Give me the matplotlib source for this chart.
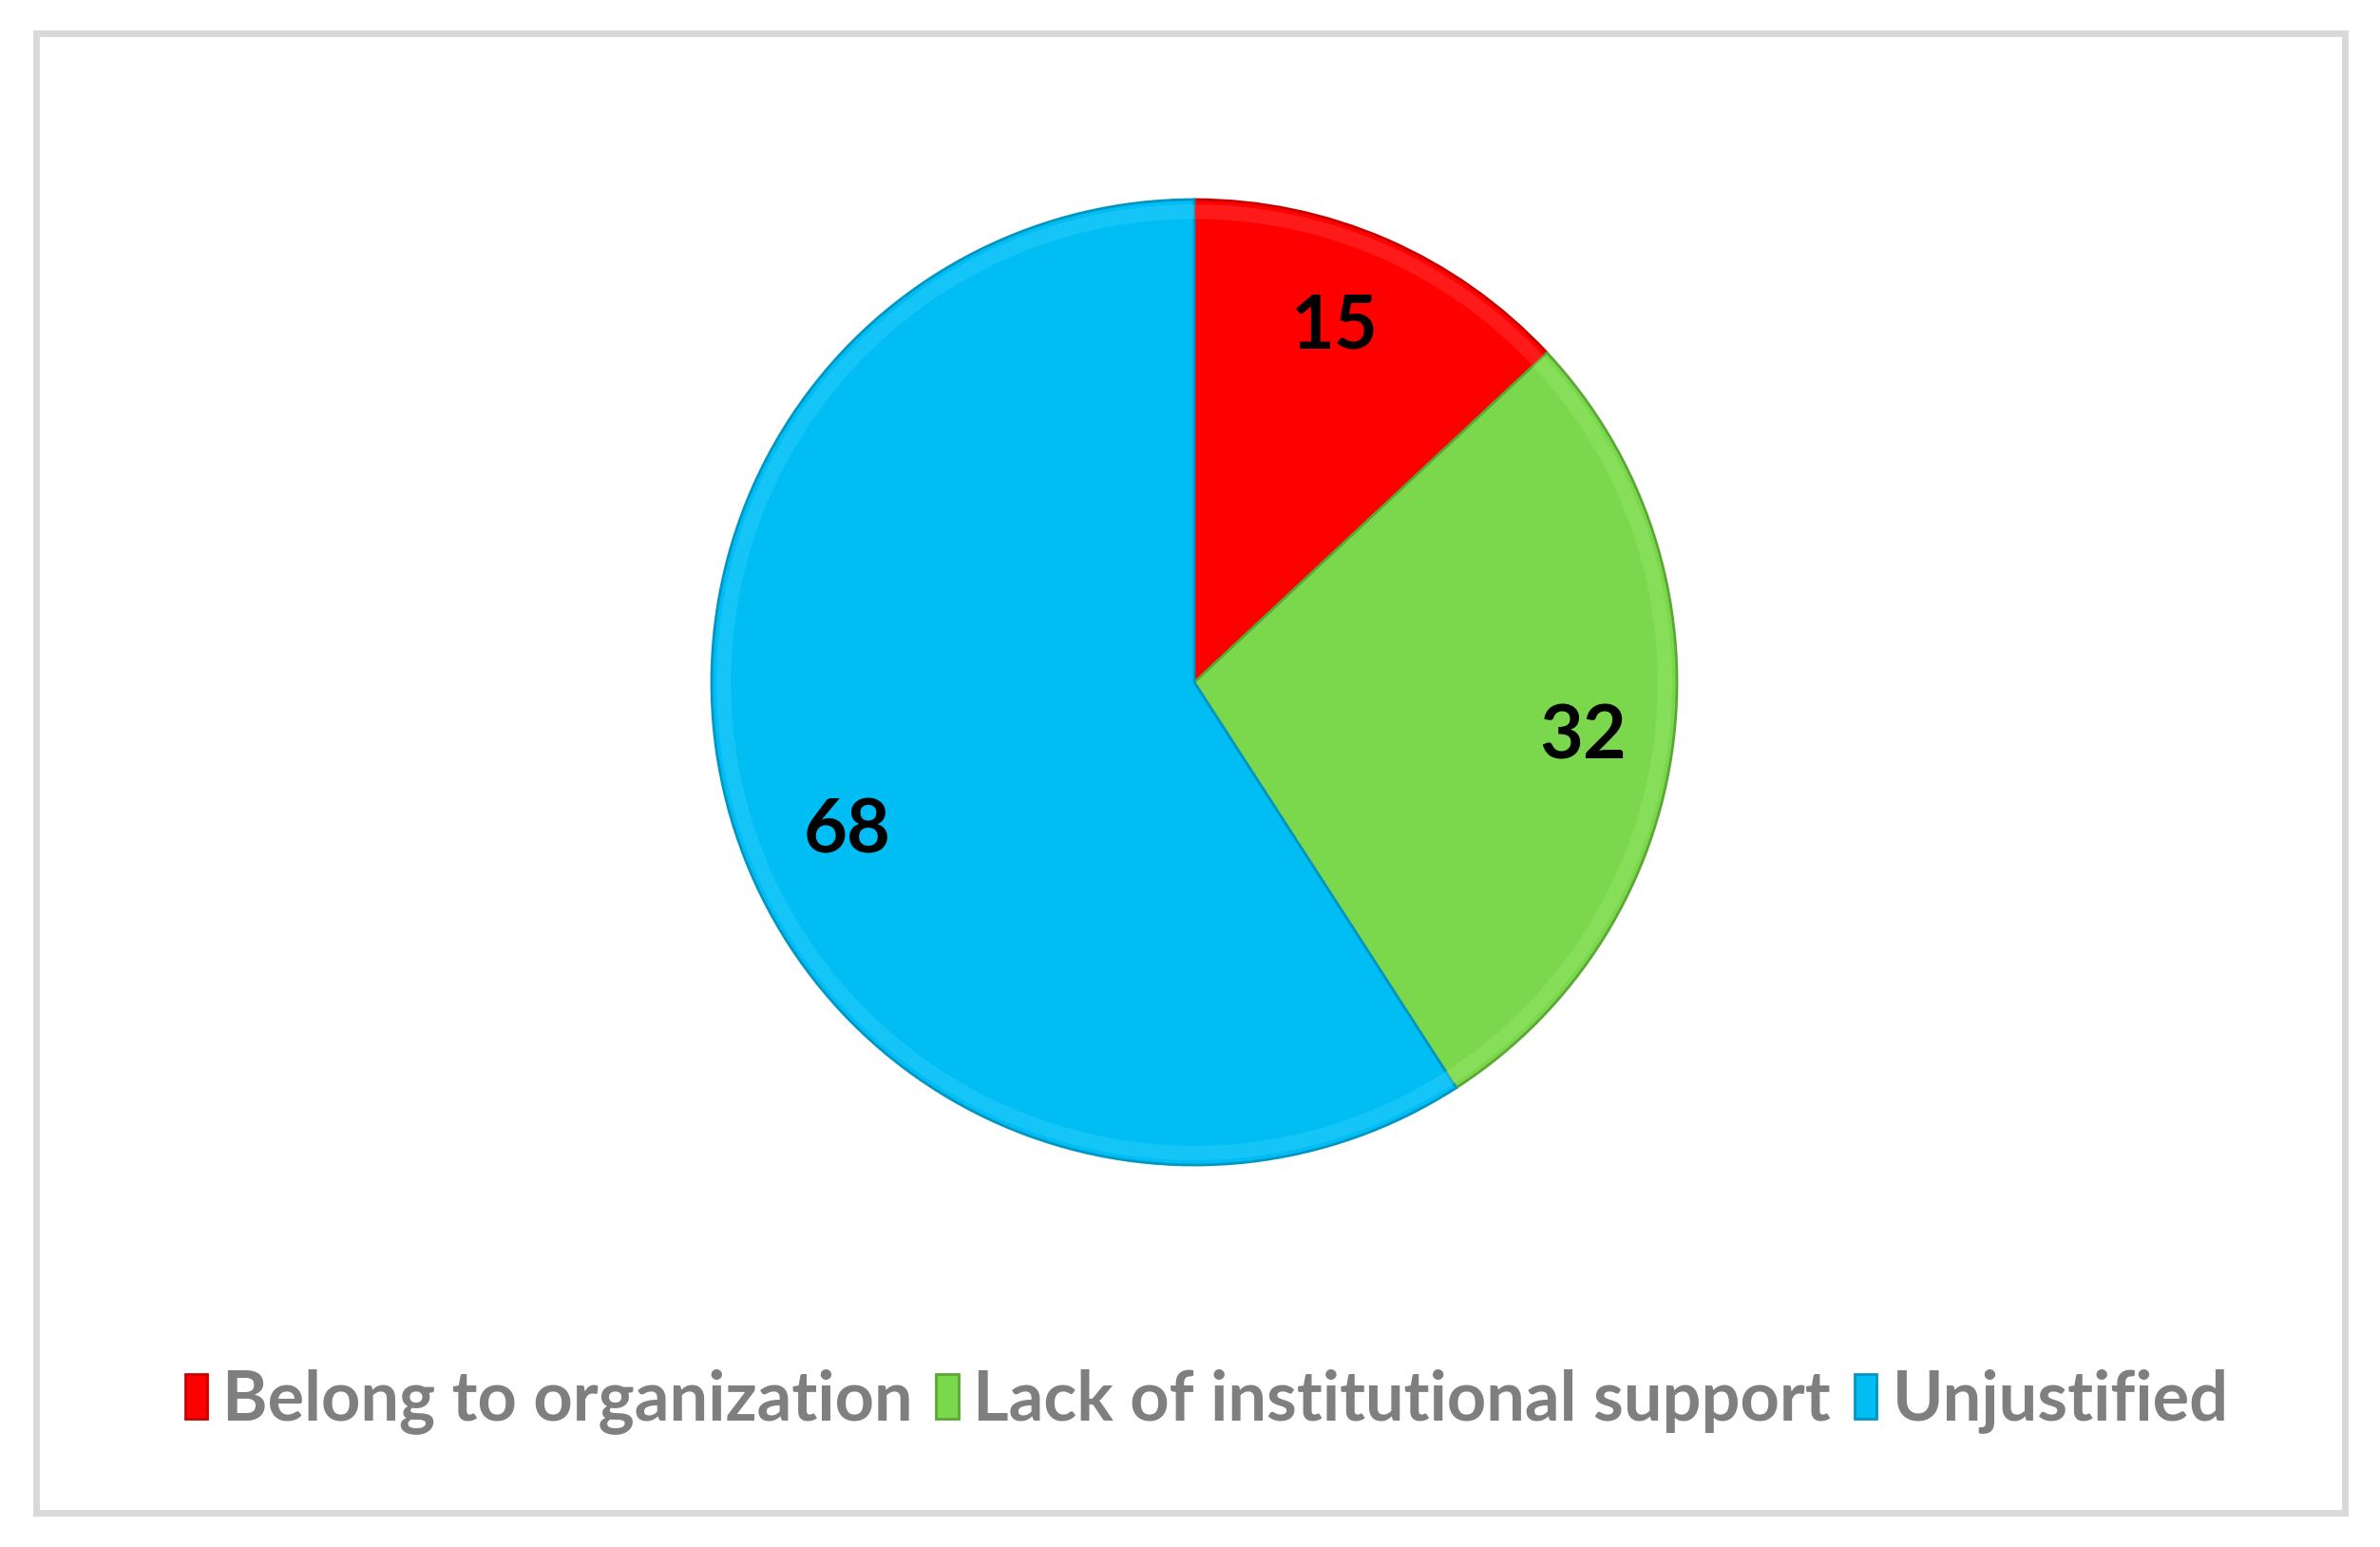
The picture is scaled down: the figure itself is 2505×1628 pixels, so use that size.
import matplotlib.pyplot as plt
from matplotlib.patches import Rectangle, Wedge

labels = ['Belong to organization', 'Lack of institutional support', 'Unjustified']
values = [15, 32, 68]
colors = ['#ff0000', '#7bd84c', '#00bdf4']
edge_colors = ['#c80000', '#5aa834', '#0096c4']
rim_colors = ['#ff3b3b', '#96e86a', '#33d0ff']

plt.rcParams['font.family'] = ['Lato', 'DejaVu Sans']

fig = plt.figure(figsize=(25.05, 16.28), dpi=100)

# grey frame round the chart area
fig.patches.append(Rectangle((38 / 2505, 1 - 1592 / 1628), (2468 - 38) / 2505, (1592 - 35) / 1628,
                             transform=fig.transFigure, fill=False, edgecolor='#d9d9d9',
                             linewidth=5, zorder=0))

ax = fig.add_axes([0.299, 0.2469, 0.4056, 0.6241])
wedges, texts = ax.pie(values, colors=colors, startangle=90, counterclock=False,
                       labels=[str(v) for v in values], labeldistance=0.8,
                       wedgeprops=dict(linewidth=2),
                       textprops=dict(fontsize=57, fontweight='bold', color='black',
                                      ha='center', va='center'))
for w, ec, rc in zip(wedges, edge_colors, rim_colors):
    w.set_edgecolor(ec)
    # faint light rim just inside the outer edge, a bit like the bevel in the original
    ax.add_patch(Wedge((0, 0), 0.99, w.theta1, w.theta2, width=0.03,
                       facecolor=rc, edgecolor='none', alpha=0.45, zorder=1.5))

# place the labels the way the original places them
label_pos = [(0.29, 0.735), (0.805, -0.115), (-0.72, -0.31)]
for t, p in zip(texts, label_pos):
    t.set_position(p)
    t.set_zorder(3)

ax.set_xlim(-1, 1)
ax.set_ylim(-1, 1)
ax.set_aspect('equal')

leg = fig.legend(wedges, labels, loc='center', bbox_to_anchor=(0.507, 0.094), ncol=3,
                 frameon=False, fontsize=52, handlelength=0.32, handleheight=0.62,
                 handletextpad=0.22, columnspacing=0.35)
for t in leg.get_texts():
    t.set_color('#7f7f7f')
    t.set_fontweight('bold')

fig.savefig('out.png', dpi=100, facecolor='white')
